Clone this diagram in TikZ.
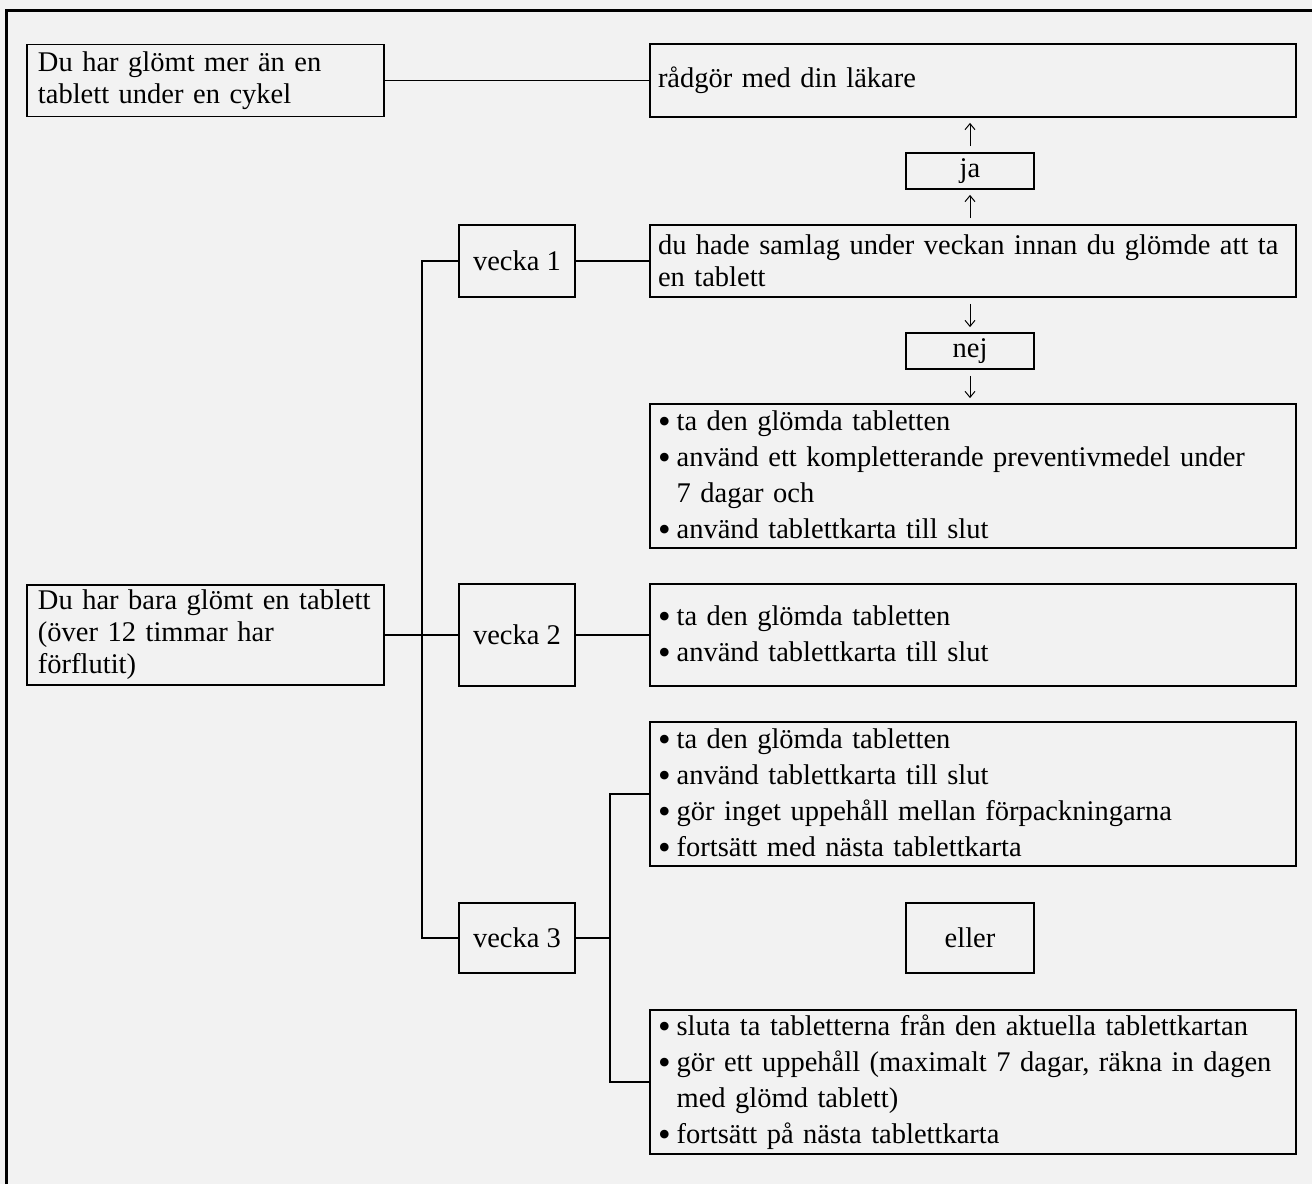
\documentclass[tikz,border=0pt]{standalone}
\usepackage{fontspec}
\setmainfont{Liberation Serif}
\usetikzlibrary{arrows.meta}
\definecolor{bggray}{HTML}{F2F2F2}
\newcommand{\blt}{\raisebox{-.25ex}{\fontsize{18}{18}\selectfont\textbullet}\kern3pt}
\newcommand{\bind}{\hphantom{\blt}}
\tikzset{
 box/.style={draw,line width=.9pt,inner xsep=4pt,inner ysep=2pt,align=left},
 wide/.style={box,text width=315pt},
 side/.style={box,inner xsep=5.5pt,text width=167.5pt},
 listbox/.style={wide,minimum height=72pt,font=\fontsize{14.25}{18}\selectfont},
 tag/.style={draw,line width=.9pt,minimum width=64pt,inner sep=0pt,align=center},
 week/.style={draw,line width=.9pt,minimum width=58pt,inner sep=0pt,align=center},
 arr/.style={-{Straight Barb[length=3pt,width=5pt]},line width=.5pt,shorten >=2.5pt,shorten <=3pt}
}
\begin{document}
\begin{tikzpicture}[font=\fontsize{14.25}{16}\selectfont,x=.5pt,y=-.5pt]
\fill[bggray] (0,0) rectangle (1312,1184);
\useasboundingbox (0,0) rectangle (1312,1184);
\draw[line width=1.2pt] (6.5,1184) |- (1312,10.5);
% top row
\node[side,minimum height=36pt] (mer) at (205.5,80.5) {Du har glömt mer än en\\tablett under en cykel};
\node[wide,minimum height=36.5pt] (lakare) at (973,80.5) {rådgör med din läkare};
\node[tag,minimum height=18pt] (ja) at (970,171) {ja};
\node[wide,minimum height=36pt] (samlag) at (973,261) {du hade samlag under veckan innan du glömde att ta\\en tablett};
\node[tag,minimum height=18pt] (nej) at (970,351) {nej};
\node[listbox] (lista) at (973,476) {\blt ta den glömda tabletten\\\blt använd ett kompletterande preventivmedel under\\\bind 7 dagar och\\\blt använd tablettkarta till slut};
% veckor
\node[week,minimum height=36pt] (vecka1) at (517,261) {vecka 1};
\node[side,minimum height=50pt] (bara) at (205.5,635) {Du har bara glömt en tablett\\(över 12 timmar har\\förflutit)};
\node[week,minimum height=51pt] (vecka2) at (517,635) {vecka 2};
\node[listbox,minimum height=51pt] (listb) at (973,635) {\blt ta den glömda tabletten\\\blt använd tablettkarta till slut};
\node[listbox] (listc) at (973,794) {\blt ta den glömda tabletten\\\blt använd tablettkarta till slut\\\blt gör inget uppehåll mellan förpackningarna\\\blt fortsätt med nästa tablettkarta};
\node[week,minimum height=35pt] (vecka3) at (517,938) {vecka 3};
\node[tag,minimum height=35pt] (eller) at (970,938) {eller};
\node[listbox] (listd) at (973,1082) {\blt sluta ta tabletterna från den aktuella tablettkartan\\\blt gör ett uppehåll (maximalt 7 dagar, räkna in dagen\\\bind med glömd tablett)\\\blt fortsätt på nästa tablettkarta};
% linjer
\coordinate (trk) at (422,261);
\coordinate (fork) at (610,938);
\draw[line width=.9pt] (mer.east) -- (lakare.west);
\draw[line width=.9pt] (vecka1.east) -- (samlag.west);
\draw[line width=.9pt] (vecka1.west) -- (trk) |- (vecka3.west);
\draw[line width=.9pt] (bara.east) -- (vecka2.west);
\draw[line width=.9pt] (vecka2.east) -- (listb.west);
\draw[line width=.9pt] (vecka3.east) -- (fork);
\draw[line width=.9pt] (listc.west) -| (fork) |- (listd.west);
\draw[arr] (ja.north) -- (ja.north |- lakare.south);
\draw[arr] (ja.south |- samlag.north) -- (ja.south);
\draw[arr] (nej.north |- samlag.south) -- (nej.north);
\draw[arr] (nej.south) -- (nej.south |- lista.north);
\end{tikzpicture}
\end{document}
